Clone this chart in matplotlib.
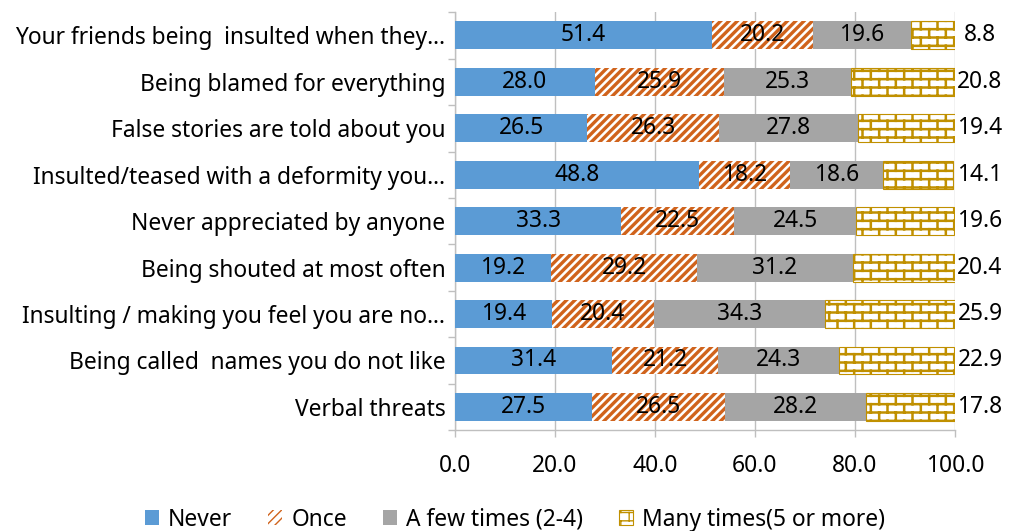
import warnings
import numpy as np
import matplotlib
matplotlib.use("Agg")
import matplotlib.pyplot as plt
from matplotlib import hatch as mhatch
from matplotlib.path import Path

warnings.filterwarnings("ignore")

# ---------------------------------------------------------
# DATA
# ---------------------------------------------------------
categories = [
    "Your friends being  insulted when they\u2026",
    "Being blamed for everything",
    "False stories are told about you",
    "Insulted/teased with a deformity you\u2026",
    "Never appreciated by anyone",
    "Being shouted at most often",
    "Insulting / making you feel you are no\u2026",
    "Being called  names you do not like",
    "Verbal threats",
]
never = [51.4, 28.0, 26.5, 48.8, 33.3, 19.2, 19.4, 31.4, 27.5]
once = [20.2, 25.9, 26.3, 18.2, 22.5, 29.2, 20.4, 21.2, 26.5]
few_times = [19.6, 25.3, 27.8, 18.6, 24.5, 31.2, 34.3, 24.3, 28.2]
many_times = [8.8, 20.8, 19.4, 14.1, 19.6, 20.4, 25.9, 22.9, 17.8]
series_names = ["Never", "Once", "A few times (2-4)", "Many times(5 or more)"]
xticks = [0, 20, 40, 60, 80, 100]


# ---------------------------------------------------------
# BRICK HATCH ('b')
# ---------------------------------------------------------
class BrickHatch(mhatch.HatchPatternBase):
    def __init__(self, hatch, density):
        n = hatch.count("b")
        self.rows = 2 * density * n
        self.cols = density * n
        self.segs = []
        if n:
            rows, cols = self.rows, self.cols
            for k in range(rows):
                y = (k + 0.5) / rows
                self.segs.append(((0.0, y), (1.0, y)))
            for r in range(rows):
                y0 = (r + 0.5) / rows
                y1 = (r + 1.5) / rows
                off = 0.25 if r % 2 == 0 else 0.75
                for c in range(cols):
                    x = (c + off) / cols
                    if y1 <= 1.0:
                        self.segs.append(((x, y0), (x, y1)))
                    else:
                        self.segs.append(((x, y0), (x, 1.0)))
                        self.segs.append(((x, 0.0), (x, y1 - 1.0)))
        self.num_vertices = 2 * len(self.segs)

    def set_vertices_and_codes(self, vertices, codes):
        for i, (a, b) in enumerate(self.segs):
            vertices[2 * i] = a
            vertices[2 * i + 1] = b
            codes[2 * i] = Path.MOVETO
            codes[2 * i + 1] = Path.LINETO


mhatch._hatch_types.append(BrickHatch)

# ---------------------------------------------------------
# STYLE
# ---------------------------------------------------------
plt.rcParams["font.family"] = ["Noto Sans", "DejaVu Sans"]
FS = 16.4
BLUE = "#5B9BD5"
ORANGE = "#D0631C"
GRAY = "#A5A5A5"
GOLD = "#C09000"
AXIS_GRAY = "#BFBFBF"

fig = plt.figure(figsize=(10.1, 5.31), dpi=100)
ax = fig.add_axes([0.4505, 0.19, 0.495, 0.787])

y = np.arange(len(categories))
h = 0.6
left = np.zeros(len(categories))

styles = [
    dict(color=BLUE, linewidth=0),
    dict(facecolor="white", edgecolor=ORANGE, hatch="////", linewidth=0),
    dict(color=GRAY, linewidth=0),
    dict(facecolor="white", edgecolor=GOLD, hatch="b", linewidth=0.8),
]
hatch_lw = [None, 2.4, None, 1.8]

for vals, name, st, hlw in zip([never, once, few_times, many_times],
                               series_names, styles, hatch_lw):
    bars = ax.barh(y, vals, height=h, left=left, label=name, zorder=3, **st)
    if hlw is not None:
        for b in bars:
            if hasattr(b, "set_hatch_linewidth"):
                b.set_hatch_linewidth(hlw)
    if name != series_names[-1]:
        for yi, l, v in zip(y, left, vals):
            ax.text(l + v / 2, yi, f"{v:.1f}", ha="center", va="center",
                    fontsize=FS, color="black", zorder=5)
    else:
        for yi, v in zip(y, vals):
            ax.text(105, yi, f"{v:.1f}", ha="center", va="center",
                    fontsize=FS, color="black", clip_on=False, zorder=5)
    left = left + np.array(vals)

ax.set_xlim(0, 100)
ax.set_ylim(len(categories) - 0.5, -0.5)
ax.set_xticks(xticks)
ax.set_xticklabels([f"{t:.1f}" for t in xticks], fontsize=FS)
ax.set_yticks(y)
ax.set_yticklabels(categories, fontsize=FS)

# category boundary ticks on the left axis
ax.set_yticks(np.arange(-0.5, len(categories), 1.0), minor=True)
ax.tick_params(axis="y", which="major", length=0, pad=7)
ax.tick_params(axis="y", which="minor", length=5, color=AXIS_GRAY, width=1)
ax.tick_params(axis="x", length=5, color=AXIS_GRAY, width=1, pad=12)

ax.grid(axis="x", color=AXIS_GRAY, linewidth=1, zorder=0)
for side in ["top", "right"]:
    ax.spines[side].set_visible(False)
for side in ["left", "bottom"]:
    ax.spines[side].set_color(AXIS_GRAY)
    ax.spines[side].set_linewidth(1)

fig.legend(loc="lower center", bbox_to_anchor=(0.51, -0.04), ncol=4,
           frameon=False, fontsize=FS, handlelength=0.6, handleheight=0.6,
           handletextpad=0.4, columnspacing=1.6)

fig.savefig("out.png", dpi=100)
